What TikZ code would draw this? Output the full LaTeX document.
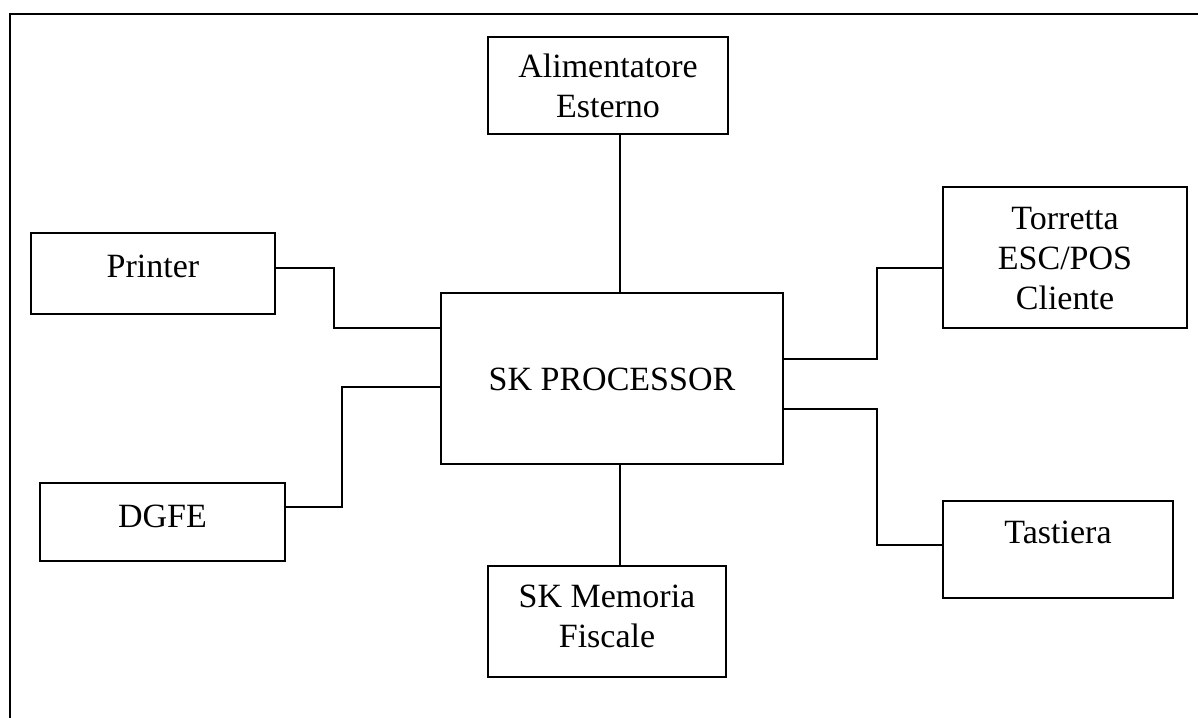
\documentclass[tikz,border=0pt]{standalone}
\usepackage{fontspec}
\setmainfont{Liberation Serif}
\begin{document}
\begin{tikzpicture}[x=1bp,y=-1bp,
  box/.style={draw=black,line width=2bp,rectangle,inner sep=0pt,outer sep=0pt},
  wire/.style={draw=black,line width=1.6bp},
  lbl/.style={anchor=base,inner sep=0pt,font=\fontsize{34bp}{39.5bp}\selectfont}]
\useasboundingbox (0,0) rectangle (1198,718);
% outer frame (open to the right and bottom)
\draw[line width=2bp] (10,730) -- (10,14) -- (1210,14);
% boxes
\node[box,minimum width=240bp,minimum height=97bp] (alim) at (608,85.5) {};
\node[box,minimum width=244bp,minimum height=81bp] (printer) at (153,273.5) {};
\node[box,minimum width=244bp,minimum height=141bp] (torretta) at (1065,257.5) {};
\node[box,minimum width=342bp,minimum height=171bp] (sk) at (612,378.5) {};
\node[box,minimum width=245bp,minimum height=78bp] (dgfe) at (162.5,522) {};
\node[box,minimum width=230bp,minimum height=97bp] (tastiera) at (1058,549.5) {};
\node[box,minimum width=238bp,minimum height=111bp] (memoria) at (607,621.5) {};
% texts
\node[lbl] (t-alim1) at (608,78) {Alimentatore};
\node[lbl] (t-alim2) at (608,117.5) {Esterno};
\node[lbl] (t-printer) at (153,277) {Printer};
\node[lbl] (t-tor1) at (1065,230) {Torretta};
\node[lbl] (t-tor2) at (1065,269.5) {ESC/POS};
\node[lbl] (t-tor3) at (1065,309) {Cliente};
\node[lbl] (t-sk) at (612,390) {SK PROCESSOR};
\node[lbl] (t-dgfe) at (162.5,527) {DGFE};
\node[lbl] (t-tast) at (1058,543) {Tastiera};
\node[lbl] (t-mem1) at (607,607) {SK Memoria};
\node[lbl] (t-mem2) at (607,647) {Fiscale};
% connectors
\draw[wire] ([xshift=12bp]alim.south) -- ([xshift=8bp]sk.north);
\draw[wire] ([xshift=8bp]sk.south) -- ([xshift=13bp]memoria.north);
\draw[wire] ([yshift=5.5bp]printer.east) -- ++(59,0) |- ([yshift=50.5bp]sk.west);
\draw[wire] ([yshift=15bp]dgfe.east) -- ++(57,0) |- ([yshift=-8.5bp]sk.west);
\draw[wire] ([yshift=19.5bp]sk.east) -- ++(94,0) |- ([yshift=-10.5bp]torretta.west);
\draw[wire] ([yshift=-30.5bp]sk.east) -- ++(94,0) |- ([yshift=4.5bp]tastiera.west);
\end{tikzpicture}
\end{document}
